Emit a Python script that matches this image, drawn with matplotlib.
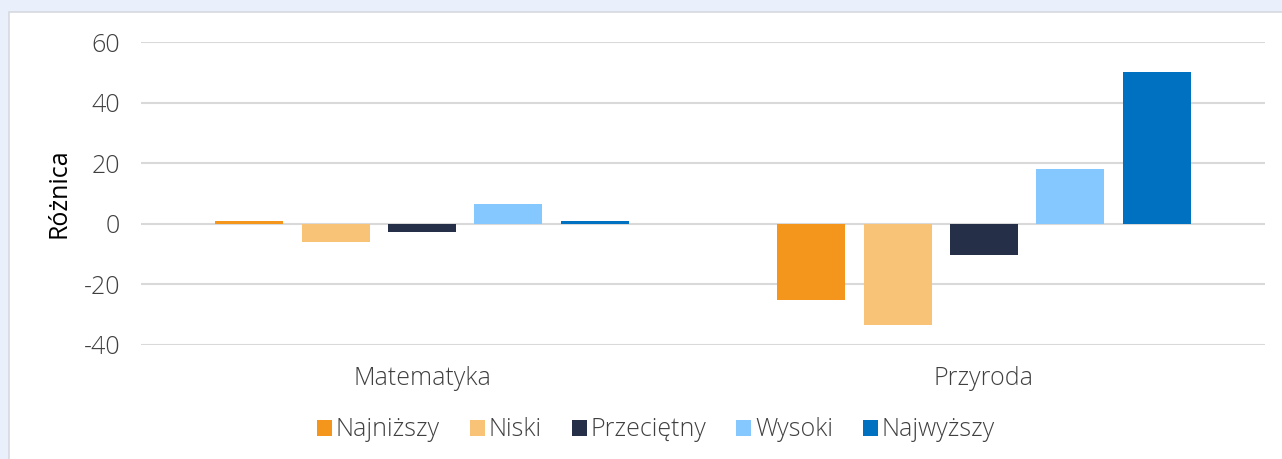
import matplotlib.pyplot as plt
from matplotlib.patches import Rectangle
import numpy as np

categories = ["Matematyka", "Przyroda"]
levels = ["Najniższy", "Niski", "Przeciętny", "Wysoki", "Najwyższy"]
najnizszy = [0.9, -25.1]
niski = [-6.0, -33.4]
przecietny = [-2.8, -10.4]
wysoki = [6.4, 18.0]
najwyzszy = [0.9, 50.0]
series = [najnizszy, niski, przecietny, wysoki, najwyzszy]
colors = ["#F4961C", "#F8C277", "#262F48", "#85C8FF", "#0070C0"]
yticks = [-40, -20, 0, 20, 40, 60]

plt.rcParams['font.family'] = ['Open Sans', 'DejaVu Sans']
plt.rcParams['font.weight'] = 'light'

W, H = 1282, 459
fig = plt.figure(figsize=(W / 100, H / 100), dpi=100)
fig.patch.set_facecolor("#E9F0FB")

# white card behind the chart
card = Rectangle((9 / W, -0.1), 1.2, 1 - 12 / H + 0.1, transform=fig.transFigure,
                 facecolor="white", edgecolor="#D6D9DE", linewidth=1.2, zorder=-10)
fig.patches.append(card)

ax = fig.add_axes([141 / W, 1 - 345 / H, (1265 - 141) / W, (345 - 42) / H])
ax.set_zorder(1)
ax.set_facecolor("none")

x = np.arange(len(categories))
slot = 0.1536
width = 0.121
for i, (vals, c, name) in enumerate(zip(series, colors, levels)):
    offs = (i - 2) * slot
    ax.bar(x + offs, vals, width=width, color=c, label=name, zorder=3)

ax.set_xlim(-0.5, 1.5)
ax.set_ylim(-40, 60)
ax.set_yticks(yticks)
ax.set_yticklabels([str(t) for t in yticks])
ax.set_xticks(x)
ax.set_xticklabels(categories)
ax.grid(axis='y', color="#D9D9D9", linewidth=1.5, zorder=0)
ax.set_axisbelow(True)
for s in ax.spines.values():
    s.set_visible(False)
ax.tick_params(axis='both', length=0, labelsize=18, labelcolor="#404040")
ax.tick_params(axis='y', pad=15)
ax.tick_params(axis='x', pad=15)
ax.set_ylabel("Różnica", fontsize=18, color="black", fontweight='normal', labelpad=9)

leg = fig.legend(loc='center', bbox_to_anchor=(656 / W, 1 - 430 / H), ncol=5,
                 frameon=False, fontsize=18, handlelength=0.6, handleheight=0.6,
                 handletextpad=0.15, columnspacing=1.2)
for t in leg.get_texts():
    t.set_color("#404040")

fig.savefig("out.png", dpi=100, facecolor=fig.get_facecolor())
